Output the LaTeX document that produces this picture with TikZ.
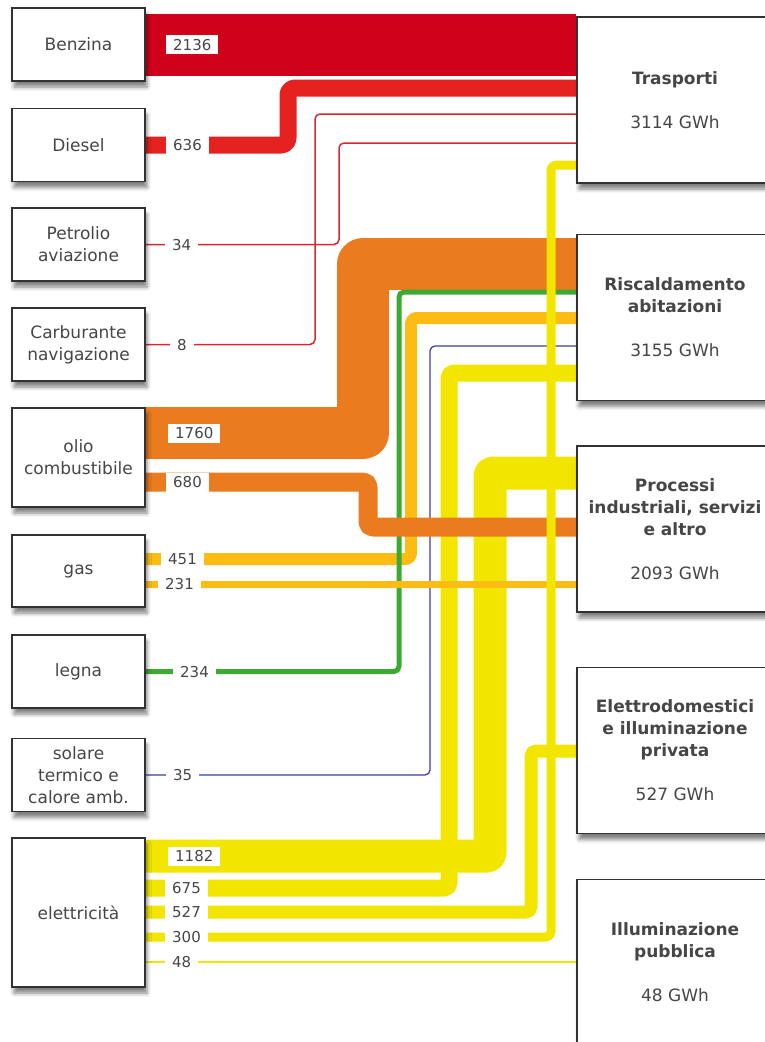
\documentclass[tikz,border=0pt]{standalone}
\usepackage{fontspec}
\setmainfont{DejaVu Sans}
\usetikzlibrary{shadows.blur, backgrounds}

\definecolor{benz}{RGB}{208,2,27}
\definecolor{diesel}{RGB}{228,35,32}
\definecolor{thinred}{RGB}{214,40,50}
\definecolor{oil}{RGB}{234,123,30}
\definecolor{gasc}{RGB}{252,188,20}
\definecolor{wood}{RGB}{60,170,50}
\definecolor{sol}{RGB}{60,60,170}
\definecolor{elec}{RGB}{242,230,0}
\definecolor{txt}{RGB}{70,70,70}
\definecolor{boxline}{RGB}{50,50,50}

\begin{document}
\begin{tikzpicture}[x=1pt, y=-1pt]

\tikzset{src/.style = {shape=rectangle, draw=boxline, line width=1.3pt, fill=white, text=txt,
  minimum width=133pt, minimum height=73pt, inner sep=0pt, align=center,
  font=\fontsize{17}{22}\selectfont,
  blur shadow={shadow xshift=2pt, shadow yshift=-6pt, shadow blur radius=4pt, shadow opacity=50}}}
\tikzset{use/.style = {src, minimum width=196pt, minimum height=166pt,
  font=\fontsize{17}{22}\selectfont\bfseries}}
\tikzset{qty/.style = {fill=white, text=txt, anchor=west, inner xsep=7pt, inner ysep=4pt,
  text height=11pt, text depth=0pt, font=\fontsize{15}{15}\selectfont}}
\tikzset{flow/.style = {rounded corners=5pt, line join=round}}

\useasboundingbox (0,0) rectangle (765,1042);

%sources
\node[src] (benzina) at (78.5,44.5) {Benzina};
\node[src] (diesel) at (78.5,145) {Diesel};
\node[src] (petrolio) at (78.5,244.5) {Petrolio\\aviazione};
\node[src] (carburante) at (78.5,344.5) {Carburante\\navigazione};
\node[src, minimum height=99pt] (olio) at (78.5,457.5) {olio\\combustibile};
\node[src, minimum height=72pt] (gas) at (78.5,571) {gas};
\node[src] (legna) at (78.5,671.5) {legna};
\node[src] (solare) at (78.5,775) {solare\\termico e\\calore amb.};
\node[src, minimum height=149pt] (elettricita) at (78.5,912.5) {elettricità};

%uses
\node[use] (trasporti) at (675,100) {Trasporti\\[22pt]\mdseries 3114 GWh};
\node[use] (riscaldamento) at (675,317.5) {Riscaldamento\\abitazioni\\[22pt]\mdseries 3155 GWh};
\node[use] (processi) at (675,529) {Processi\\industriali, servizi\\e altro\\[22pt]\mdseries 2093 GWh};
\node[use] (elettrodomestici) at (675,750.5) {Elettrodomestici\\e illuminazione\\privata\\[22pt]\mdseries 527 GWh};
\node[use] (illuminazione) at (675,962.5) {Illuminazione\\pubblica\\[22pt]\mdseries 48 GWh};

%flows
\begin{scope}[on background layer]
\draw[flow, benz, line width=62pt] (benzina.east |- 0,45) -- (trasporti.west |- 0,45);
\draw[flow, diesel, line width=17pt, rounded corners=7pt] (diesel.east) -- (288,145) -- (288,88) -- (trasporti.west |- 0,88);
\draw[flow, thinred, line width=1.5pt] (petrolio.east) -- (339,244.5) -- (339,143) -- (trasporti.west |- 0,143);
\draw[flow, thinred, line width=1.5pt] (carburante.east) -- (315,344.5) -- (315,114) -- (trasporti.west |- 0,114);
\draw[flow, oil, line width=52pt, rounded corners=0pt] (olio.east |- 0,433) -- (363,433) -- (363,264) -- (riscaldamento.west |- 0,264);
\draw[flow, gasc, line width=12pt] (gas.east |- 0,559) -- (411,559) -- (411,318) -- (riscaldamento.west |- 0,318);
\draw[flow, wood, line width=5pt] (legna.east) -- (399,671.5) -- (399,292) -- (riscaldamento.west |- 0,292);
\draw[flow, sol, line width=1.3pt] (solare.east) -- (430,775) -- (430,346) -- (riscaldamento.west |- 0,346);
\draw[flow, elec, line width=33pt, rounded corners=3pt] (elettricita.east |- 0,856) -- (490,856) -- (490,473) -- (processi.west |- 0,473);
\draw[flow, elec, line width=17pt] (elettricita.east |- 0,888) -- (449,888) -- (449,373) -- (riscaldamento.west |- 0,373);
\draw[flow, elec, line width=13pt] (elettricita.east |- 0,912) -- (531,912) -- (531,751) -- (elettrodomestici.west |- 0,751);
\draw[flow, oil, line width=19pt] (olio.east |- 0,482) -- (368,482) -- (368,527) -- (processi.west |- 0,527);
\draw[flow, gasc, line width=7pt] (gas.east |- 0,584) -- (processi.west |- 0,584);
\draw[flow, elec, line width=9pt] (elettricita.east |- 0,937) -- (551,937) -- (551,165) -- (trasporti.west |- 0,165);
\draw[flow, elec, line width=1.5pt] (elettricita.east |- 0,962) -- (illuminazione.west |- 0,962);
\end{scope}

%quantities
\node[qty] (q2136) at (166,44.5) {2136};
\node[qty] (q636) at (166,145) {636};
\node[qty] (q34) at (165,244.5) {34};
\node[qty] (q8) at (170,344.5) {8};
\node[qty] (q1760) at (168,433) {1760};
\node[qty] (q680) at (166,482) {680};
\node[qty] (q451) at (161,559) {451};
\node[qty] (q231) at (158,584) {231};
\node[qty] (q234) at (173,671.5) {234};
\node[qty] (q35) at (166,775) {35};
\node[qty] (q1182) at (168,856) {1182};
\node[qty] (q675) at (165,888) {675};
\node[qty] (q527) at (165,912) {527};
\node[qty] (q300) at (165,937) {300};
\node[qty] (q48) at (165,962) {48};

\end{tikzpicture}
\end{document}
